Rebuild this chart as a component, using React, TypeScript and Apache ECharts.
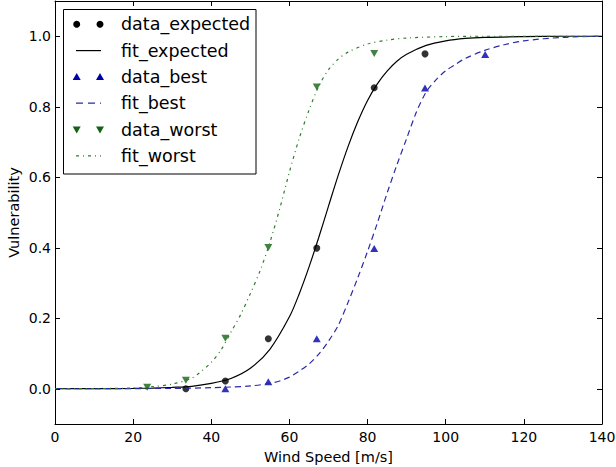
import React, { useEffect, useRef } from "react";
import * as echarts from "echarts";

// Measured points
const expectedX = [33.5, 43.6, 54.6, 67.0, 81.7, 94.7];
const expectedY = [0.0, 0.022, 0.142, 0.399, 0.854, 0.95];
const bestX = [43.6, 54.6, 67.0, 81.7, 94.7, 110.1];
const bestY = [0.0, 0.02, 0.142, 0.398, 0.853, 0.948];
const worstX = [23.6, 33.5, 43.6, 54.6, 67.0, 81.7];
const worstY = [0.004, 0.024, 0.143, 0.401, 0.856, 0.951];

// Fitted curves
const fitExpectedX = [0, 10, 20, 25, 30, 35, 40, 45, 50, 55, 60, 62.5, 65, 67.5, 70, 72.5, 75, 77.5, 80, 82.5, 85, 87.5, 90, 95, 100, 105, 110, 120, 130, 140];
const fitExpectedY = [0, 0.0002, 0.001, 0.002, 0.004, 0.007, 0.015, 0.029, 0.058, 0.112, 0.204, 0.269, 0.345, 0.429, 0.518, 0.606, 0.687, 0.758, 0.818, 0.865, 0.901, 0.929, 0.949, 0.974, 0.987, 0.994, 0.997, 0.999, 1.0, 1.0];
const fitBestX = [0, 10, 20, 30, 40, 45, 50, 55, 57.5, 60, 62.5, 65, 67.5, 70, 72.5, 75, 77.5, 80, 82.5, 85, 87.5, 90, 92.5, 95, 97.5, 100, 102.5, 105, 110, 115, 120, 130, 140];
const fitBestY = [0, 0, 0.0005, 0.001, 0.003, 0.005, 0.008, 0.015, 0.022, 0.033, 0.05, 0.07, 0.098, 0.135, 0.18, 0.245, 0.315, 0.39, 0.47, 0.555, 0.635, 0.71, 0.785, 0.842, 0.876, 0.902, 0.92, 0.937, 0.96, 0.976, 0.987, 0.997, 1.0];
const fitWorstX = [0, 10, 20, 25, 30, 35, 37.5, 40, 42.5, 45, 47.5, 50, 52.5, 55, 57.5, 60, 62.5, 65, 67.5, 70, 72.5, 75, 80, 85, 90, 100, 110, 120, 140];
const fitWorstY = [0, 0.0005, 0.002, 0.006, 0.013, 0.03, 0.05, 0.075, 0.11, 0.16, 0.21, 0.27, 0.335, 0.415, 0.51, 0.615, 0.71, 0.79, 0.858, 0.905, 0.935, 0.955, 0.978, 0.989, 0.995, 0.999, 1.0, 1.0, 1.0];

const yTicks = [0, 0.2, 0.4, 0.6, 0.8, 1.0];
const legendLabels = ["data_expected", "fit_expected", "data_best", "fit_best", "data_worst", "fit_worst"];

const BLACK = "#000000";
const BLUE_M = "#0000a8";
const BLUE_L = "#2a2aa8";
const GREEN_M = "#136313";
const GREEN_L = "#2e7d2e";
const FONT = '"DejaVu Sans", "Liberation Sans", sans-serif';

const zip = (xs: number[], ys: number[]) => xs.map((x, i) => [x, ys[i]]);

function buildLegend() {
  const els: any[] = [];
  els.push({
    type: "rect",
    z: 100,
    shape: { x: 63.5, y: 9.5, width: 192.5, height: 164.5 },
    style: { fill: "#ffffff", stroke: "#000000", lineWidth: 1 },
  });
  const mx = [76.7, 100];
  legendLabels.forEach((label, i) => {
    const cy = 24.3 + i * 26.3;
    if (i === 0) {
      mx.forEach((x) => els.push({ type: "circle", z: 101, shape: { cx: x, cy, r: 3.5 }, style: { fill: BLACK } }));
    } else if (i === 1) {
      els.push({ type: "line", z: 101, shape: { x1: 76, y1: cy, x2: 101, y2: cy }, style: { stroke: BLACK, lineWidth: 1.2 } });
    } else if (i === 2) {
      mx.forEach((x) =>
        els.push({ type: "polygon", z: 101, shape: { points: [[x, cy - 4], [x - 4, cy + 3], [x + 4, cy + 3]] }, style: { fill: BLUE_M } })
      );
    } else if (i === 3) {
      els.push({ type: "line", z: 101, shape: { x1: 76, y1: cy, x2: 101, y2: cy }, style: { stroke: BLUE_L, lineWidth: 1.2, lineDash: [7, 5] } });
    } else if (i === 4) {
      mx.forEach((x) =>
        els.push({ type: "polygon", z: 101, shape: { points: [[x - 4, cy - 3], [x + 4, cy - 3], [x, cy + 4]] }, style: { fill: GREEN_M } })
      );
    } else {
      els.push({ type: "line", z: 101, shape: { x1: 76, y1: cy, x2: 101, y2: cy }, style: { stroke: GREEN_L, lineWidth: 1.2, lineDash: [3, 4, 1, 4] } });
    }
    els.push({
      type: "text",
      z: 101,
      style: { text: label, x: 121, y: cy, fill: "#000", font: `17.5px ${FONT}`, verticalAlign: "middle", align: "left" },
    });
  });
  return els;
}

const axisCommon = {
  axisLine: { show: true, onZero: false, lineStyle: { color: "#000", width: 1 } },
  splitLine: { show: false },
};

export default function App() {
  const ref = useRef<HTMLDivElement>(null);
  useEffect(() => {
    const chart = echarts.init(ref.current!, null, { renderer: "svg" });
    const option: any = {
      animation: false,
      backgroundColor: "#ffffff",
      grid: { left: 55, right: 14, top: 1, bottom: 43, containLabel: false, outerBoundsMode: "none" },
      xAxis: [
        {
          type: "value",
          min: 0,
          max: 140,
          interval: 20,
          name: "Wind Speed [m/s]",
          nameLocation: "middle",
          nameGap: 25,
          nameMoveOverlap: false,
          nameTextStyle: { fontFamily: FONT, fontSize: 14.5, color: "#000" },
          ...axisCommon,
          axisTick: { show: true, inside: true, length: 5, lineStyle: { color: "#000" } },
          axisLabel: { show: true, margin: 6, fontFamily: FONT, fontSize: 14, color: "#000" },
        },
        {
          type: "value",
          position: "top",
          min: 0,
          max: 140,
          interval: 20,
          ...axisCommon,
          axisTick: { show: true, inside: true, length: 5, lineStyle: { color: "#000" } },
          axisLabel: { show: false },
        },
      ],
      yAxis: [
        {
          type: "value",
          min: -0.1,
          max: 1.1,
          name: "Vulnerability",
          nameLocation: "middle",
          nameGap: 34,
          nameMoveOverlap: false,
          nameTextStyle: { fontFamily: FONT, fontSize: 14.5, color: "#000" },
          ...axisCommon,
          axisTick: { show: true, inside: true, length: 5, customValues: yTicks, lineStyle: { color: "#000" } },
          axisLabel: {
            show: true,
            margin: 4,
            customValues: yTicks,
            formatter: (v: number) => v.toFixed(1),
            fontFamily: FONT,
            fontSize: 14,
            color: "#000",
          },
        },
        {
          type: "value",
          position: "right",
          min: -0.1,
          max: 1.1,
          ...axisCommon,
          axisTick: { show: true, inside: true, length: 5, customValues: yTicks, lineStyle: { color: "#000" } },
          axisLabel: { show: false, customValues: yTicks },
        },
      ],
      series: [
        {
          name: "data_expected",
          type: "scatter",
          data: zip(expectedX, expectedY),
          symbol: "circle",
          symbolSize: 7,
          itemStyle: { color: BLACK },
          z: 3,
        },
        {
          name: "fit_expected",
          type: "line",
          data: zip(fitExpectedX, fitExpectedY),
          showSymbol: false,
          smooth: 0.3,
          lineStyle: { color: BLACK, width: 1.2 },
          z: 4,
        },
        {
          name: "data_best",
          type: "scatter",
          data: zip(bestX, bestY),
          symbol: "triangle",
          symbolSize: [8, 7],
          itemStyle: { color: BLUE_M },
          z: 5,
        },
        {
          name: "fit_best",
          type: "line",
          data: zip(fitBestX, fitBestY),
          showSymbol: false,
          smooth: 0.3,
          lineStyle: { color: BLUE_L, width: 1.2, type: [6, 4] },
          z: 6,
        },
        {
          name: "data_worst",
          type: "scatter",
          data: zip(worstX, worstY),
          symbol: "triangle",
          symbolRotate: 180,
          symbolSize: [8, 7],
          itemStyle: { color: GREEN_M },
          z: 7,
        },
        {
          name: "fit_worst",
          type: "line",
          data: zip(fitWorstX, fitWorstY),
          showSymbol: false,
          smooth: 0.3,
          lineStyle: { color: GREEN_L, width: 1.2, type: [3, 4, 1, 4] },
          z: 8,
        },
      ],
      graphic: buildLegend(),
    };
    chart.setOption(option);
    return () => chart.dispose();
  }, []);
  return (
    <div
      ref={ref}
      style={{ position: "fixed", left: 0, top: 0, width: 616, height: 467, background: "#ffffff" }}
    />
  );
}
